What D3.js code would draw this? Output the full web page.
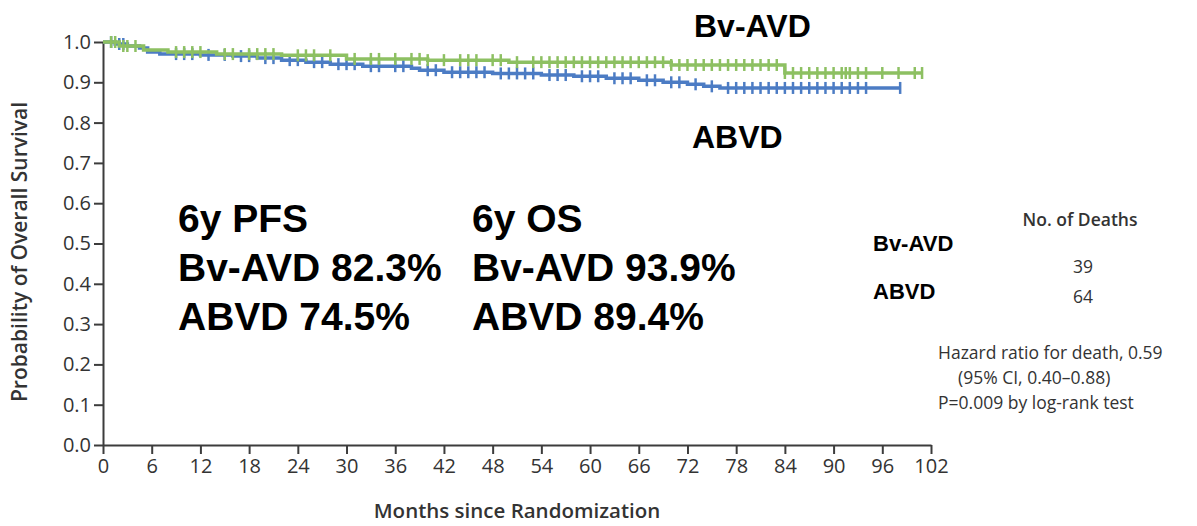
<!DOCTYPE html>
<html>
<head>
<meta charset="utf-8">
<script src="https://cdn.jsdelivr.net/npm/d3@7"></script>
<style>
  body { margin: 0; background: #fff; }
  svg { display: block; }
</style>
</head>
<body>
<svg id="chart" width="1197" height="526"></svg>
<script>
// Kaplan-Meier steps: [month, survival]
const bvSteps = [[0,1.0],[2,0.99],[5,0.98],[8,0.975],[14,0.97],[22,0.967],[30,0.958],[40,0.955],[50,0.95],[70,0.943],[84,0.923],[100.9,0.923]];
const abvdSteps = [[0,1.0],[1.5,0.995],[3,0.99],[4.5,0.985],[5.5,0.975],[7,0.97],[12,0.968],[16,0.965],[19,0.96],[22,0.955],[25,0.95],[28,0.945],[32,0.94],[38,0.935],[39,0.93],[42,0.925],[48,0.922],[54,0.918],[58,0.915],[62,0.91],[66,0.905],[69,0.9],[72,0.895],[74,0.89],[76,0.886],[98.2,0.886]];

// censoring marks (months)
const bvCensor = [1,1.5,2.5,3,4,9,10,11,12,15,16,18,19,20,21,24,25,26,28,31,33,34,36,38,39,40,42,44,45,46,48,49,51,53,54,55,56,57,58,59,60,61,62,63,64,65,66,67,68,69,70,71,72,73,74,75,76,77,78,79,80,81,82,83,84,85,86,87,88,89,90,91,91.5,92,93,94,96,98,100,100.9];
const abvdCensor = [1,2,2.5,9,10,11,13,15,17,18,20,21,23,24,26,27,29,30,31,33,34,36,37,40,41,43,44,45,46,47,49,50,51,52,53,55,56,57,59,60,61,63,64,65,67,68,70,71,73,75,77,78,79,80,81,82,83,84,85,86,87,88,89,90,91,92,93,94,98.2];

const xTicks = d3.range(0, 103, 6);
const yTicks = [0,0.1,0.2,0.3,0.4,0.5,0.6,0.7,0.8,0.9,1.0];

const deathGroups = ["Bv-AVD", "ABVD"];
const deathCounts = [39, 64];

const svg = d3.select("#chart");
const x = d3.scaleLinear().domain([0, 102]).range([103, 931]);
const y = d3.scaleLinear().domain([0, 1]).range([445, 42]);

const green = "#8dc062", blue = "#4c7cc4", axisCol = "#3c3c3c";

// axes
const xAxis = svg.append("g")
  .attr("transform", "translate(0,445)")
  .call(d3.axisBottom(x).tickValues(xTicks).tickSize(9).tickPadding(5).tickSizeOuter(0));
const yAxis = svg.append("g")
  .attr("transform", "translate(103,0)")
  .call(d3.axisLeft(y).tickValues(yTicks).tickFormat(d3.format(".1f")).tickSize(9).tickPadding(3).tickSizeOuter(0));

[xAxis, yAxis].forEach(a => {
  a.selectAll("path, line").attr("stroke", axisCol).attr("stroke-width", 2);
  a.selectAll("text").attr("fill", "#333").style("font-family", "'Open Sans', sans-serif").style("font-size", "20px");
});

svg.append("text")
  .attr("x", 517).attr("y", 518).attr("text-anchor", "middle")
  .style("font-family", "'Open Sans', sans-serif").style("font-size", "20.5px").style("font-weight", 600)
  .attr("fill", "#333").text("Months since Randomization");

svg.append("text")
  .attr("transform", "translate(27,252) rotate(-90)").attr("text-anchor", "middle")
  .style("font-family", "'Open Sans', sans-serif").style("font-size", "21px").style("font-weight", 600)
  .attr("fill", "#333").text("Probability of Overall Survival");

// curves
const line = d3.line().curve(d3.curveStepAfter).x(d => x(d[0])).y(d => y(d[1]));

function survAt(steps, t) {
  let v = steps[0][1];
  steps.forEach(s => { if (s[0] <= t) v = s[1]; });
  return v;
}

function drawCurve(steps, censor, col) {
  svg.append("path").datum(steps)
    .attr("fill", "none").attr("stroke", col).attr("stroke-width", 3.5)
    .attr("d", line);
  svg.selectAll(null).data(censor).enter().append("line")
    .attr("x1", d => x(d)).attr("x2", d => x(d))
    .attr("y1", d => y(survAt(steps, d)) - 6)
    .attr("y2", d => y(survAt(steps, d)) + 6)
    .attr("stroke", col).attr("stroke-width", 2.5);
}
drawCurve(abvdSteps, abvdCensor, blue);
drawCurve(bvSteps, bvCensor, green);

// curve labels
const bold = sel => sel.style("font-family", "'Liberation Sans', Arial, sans-serif").style("font-weight", "bold").attr("fill", "#000");
bold(svg.append("text").attr("x", 694).attr("y", 37).style("font-size", "32px").text("Bv-AVD"));
bold(svg.append("text").attr("x", 692).attr("y", 148).style("font-size", "32px").text("ABVD"));

// big summary text
const pfs = ["6y PFS", "Bv-AVD 82.3%", "ABVD 74.5%"];
const os = ["6y OS", "Bv-AVD 93.9%", "ABVD 89.4%"];
pfs.forEach((t, i) => bold(svg.append("text").attr("x", 178).attr("y", 232 + i * 49).style("font-size", "39px").text(t)));
os.forEach((t, i) => bold(svg.append("text").attr("x", 472).attr("y", 232 + i * 49).style("font-size", "39px").text(t)));

// deaths table
const sans = sel => sel.style("font-family", "'Open Sans', sans-serif").style("font-size", "17.5px").attr("fill", "#333");
sans(svg.append("text").attr("x", 1080).attr("y", 226).attr("text-anchor", "middle").style("font-size", "22px").style("font-weight", 600).text("No. of Deaths"));
deathGroups.forEach((g, i) => {
  bold(svg.append("text").attr("x", 873).attr("y", 251 + i * 48).style("font-size", "22px").text(g));
  sans(svg.append("text").attr("x", 1083).attr("y", 273 + i * 30).attr("text-anchor", "middle").style("font-size", "19px").text(deathCounts[i]));
});

const hr = ["Hazard ratio for death, 0.59", "(95% CI, 0.40\u20130.88)", "P=0.009 by log-rank test"];
const hrX = [938, 958, 938];
hr.forEach((t, i) => sans(svg.append("text").attr("x", hrX[i]).attr("y", 359 + i * 25).text(t)));
</script>
</body>
</html>
